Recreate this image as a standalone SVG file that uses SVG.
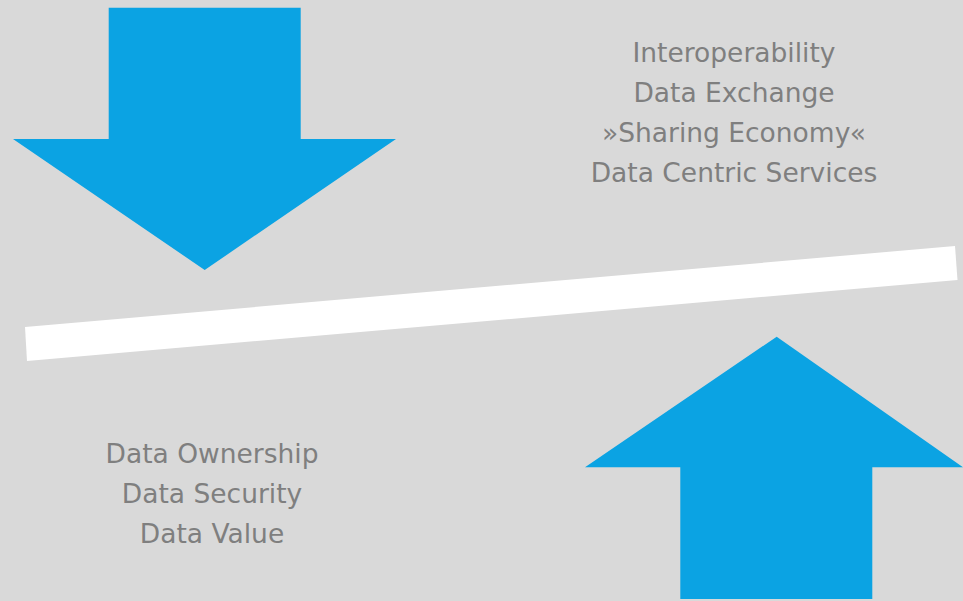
<svg xmlns="http://www.w3.org/2000/svg" width="963" height="601" viewBox="0 0 963 601">
<style>
.arrow{fill:#0ba3e3}
.lbl{font-family:"DejaVu Sans","Verdana",sans-serif;font-size:26.5px;fill:#7f7f7f;text-anchor:middle}
</style>
<rect width="963" height="601" fill="#d9d9d9"/>
<g id="down-arrow"><polygon class="arrow" points="108.7,7.7 300.7,7.7 300.7,139 396,139 204.7,270 13,139 108.7,139"/></g>
<g id="up-arrow"><polygon class="arrow" points="776.7,336.7 963,467.3 872.3,467.3 872.3,599 680.3,599 680.3,467.3 585,467.3"/></g>
<g id="balance-bar"><polygon fill="#ffffff" points="25,327 955,246 957.5,280 27,361"/></g>
<g id="top-text">
<text class="lbl" x="734" y="62">Interoperability</text>
<text class="lbl" x="734" y="102">Data Exchange</text>
<text class="lbl" x="734" y="142">»Sharing Economy«</text>
<text class="lbl" x="734" y="182">Data Centric Services</text>
</g>
<g id="bottom-text">
<text class="lbl" x="212" y="463">Data Ownership</text>
<text class="lbl" x="212" y="503">Data Security</text>
<text class="lbl" x="212" y="543">Data Value</text>
</g>
</svg>
